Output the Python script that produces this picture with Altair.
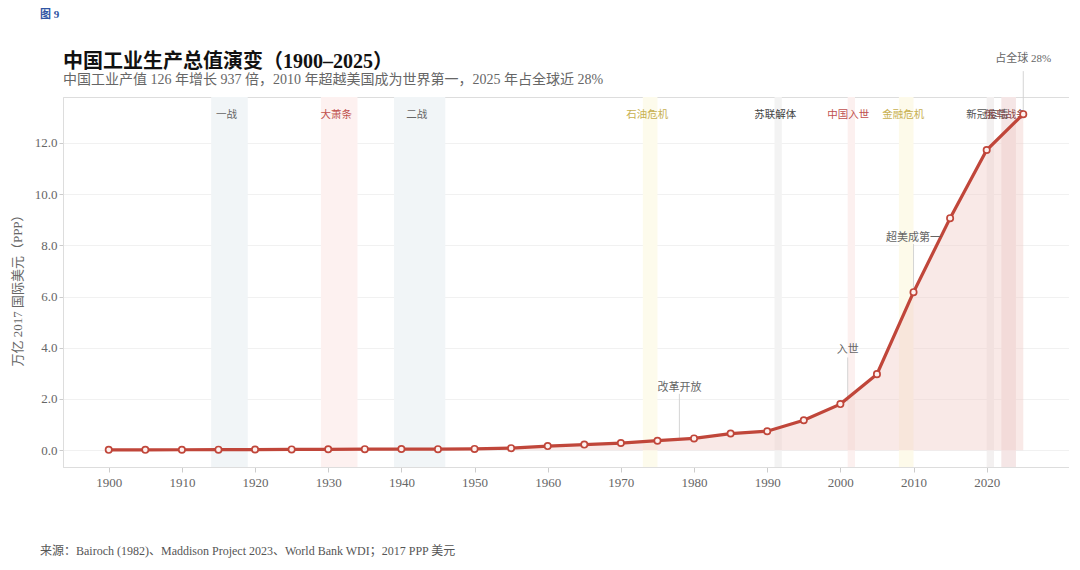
import altair as alt
import pandas as pd

# ---- data ----
years = [1900, 1905, 1910, 1915, 1920, 1925, 1930, 1935, 1940, 1945, 1950, 1955,
         1960, 1965, 1970, 1975, 1980, 1985, 1990, 1995, 2000, 2005, 2010, 2015, 2020, 2025]
values = [0.014, 0.015, 0.017, 0.02, 0.025, 0.03, 0.035, 0.04, 0.045, 0.04, 0.05, 0.08,
          0.16, 0.22, 0.28, 0.37, 0.46, 0.65, 0.74, 1.17, 1.80, 2.97, 6.17, 9.06, 11.72, 13.12]

band_names = ["一战", "大萧条", "二战", "石油危机", "苏联解体", "中国入世", "金融危机", "新冠疫情", "俄乌战争"]
band_start = [1914, 1929, 1939, 1973, 1991, 2001, 2008, 2020, 2022]
band_end = [1919, 1934, 1946, 1975, 1992, 2002, 2010, 2021, 2024]
band_fill = ["#f1f5f7", "#fdf1f0", "#f1f5f7", "#fdfbec", "#f3f3f3", "#fcf0ef", "#fdfaea", "#f3f0f0", "#f5e6e6"]
band_label_color = ["#666666", "#c0504d", "#666666", "#c8b050", "#444444", "#c0504d", "#c8b050", "#555555", "#8b4a4a"]

ann_years = [1978, 2001, 2010, 2025]
ann_labels = ["改革开放", "入世", "超美成第一", "占全球 28%"]
ann_text_y = [2.42, 3.9, 8.28, 15.27]
ann_line_top = [2.2, 3.62, 8.05, 14.8]
ann_line_bottom = [0.43, 1.9, 6.17, 13.12]

x_ticks = list(range(1900, 2021, 10))
y_ticks = [0, 2, 4, 6, 8, 10, 12]

title_text = "中国工业生产总值演变（1900–2025）"
subtitle_text = "中国工业产值 126 年增长 937 倍，2010 年超越美国成为世界第一，2025 年占全球近 28%"
fig_label = "图 9"
source_text = "来源：Bairoch (1982)、Maddison Project 2023、World Bank WDI；2017 PPP 美元"
y_title = "万亿 2017 国际美元（PPP）"

FONT = "Liberation Serif, DejaVu Serif, Noto Sans CJK SC"
W, H = 1006, 370

series = pd.DataFrame({"year": years, "value": values})
bands = pd.DataFrame({"name": band_names, "start": band_start, "end": band_end,
                      "fill": band_fill, "lc": band_label_color})
ann = pd.DataFrame({"year": ann_years, "label": ann_labels, "ty": ann_text_y,
                    "top": ann_line_top, "bottom": ann_line_bottom})

xscale = alt.Scale(domain=[1893.75, 2031.25], nice=False, zero=False)
yscale = alt.Scale(domain=[-0.656, 13.79], nice=False, zero=False)

xaxis = alt.Axis(values=x_ticks, format="d", title=None, grid=False,
                 labelColor="#666666", labelFontSize=13, labelFont=FONT,
                 tickColor="#cccccc", tickSize=5, domainColor="#dddddd", labelPadding=4)
yaxis = alt.Axis(values=y_ticks, format=".1f", title=y_title, grid=True, gridColor="#f1f1f1",
                 labelColor="#666666", labelFontSize=13, labelFont=FONT,
                 tickColor="#cccccc", tickSize=4, domainColor="#dddddd",
                 titleColor="#666666", titleFontSize=13, titleFontWeight="normal", titleFont=FONT,
                 titleX=-46, titleY=H / 2 + 5, titleAngle=-90, titleAlign="center", titleBaseline="middle")

band_rect = alt.Chart(bands).mark_rect().encode(
    x=alt.X("start:Q", scale=xscale, axis=xaxis),
    x2="end:Q",
    y=alt.value(0),
    y2=alt.value(H),
    fill=alt.Color("fill:N", scale=None),
)

band_text = alt.Chart(bands).transform_calculate(
    mid="(datum.start + datum.end) / 2"
).mark_text(fontSize=10.5, font=FONT, baseline="middle", dx=-3).encode(
    x=alt.X("mid:Q", scale=xscale, axis=xaxis),
    y=alt.value(18),
    text="name:N",
    color=alt.Color("lc:N", scale=None),
)

area = alt.Chart(series).mark_area(color="#f2cfc9", opacity=0.45).encode(
    x=alt.X("year:Q", scale=xscale, axis=xaxis),
    y=alt.Y("value:Q", scale=yscale, axis=yaxis),
    y2=alt.datum(0),
)

ann_rule = alt.Chart(ann).mark_rule(color="#cfcfcf", strokeWidth=0.9).encode(
    x=alt.X("year:Q", scale=xscale, axis=xaxis),
    y=alt.Y("top:Q", scale=yscale, axis=yaxis),
    y2="bottom:Q",
)

line = alt.Chart(series).mark_line(color="#c0463a", strokeWidth=3.2).encode(
    x=alt.X("year:Q", scale=xscale, axis=xaxis),
    y=alt.Y("value:Q", scale=yscale, axis=yaxis),
)

points = alt.Chart(series).mark_point(shape="circle", filled=True, fill="#fdf1ef",
                                      stroke="#c0463a", strokeWidth=1.7, size=40, opacity=1).encode(
    x=alt.X("year:Q", scale=xscale, axis=xaxis),
    y=alt.Y("value:Q", scale=yscale, axis=yaxis),
)

ann_text = alt.Chart(ann).mark_text(fontSize=11, font=FONT, color="#666666", baseline="middle").encode(
    x=alt.X("year:Q", scale=xscale, axis=xaxis),
    y=alt.Y("ty:Q", scale=yscale, axis=yaxis),
    text="label:N",
)

fig_txt = alt.Chart(pd.DataFrame({"t": [fig_label]})).mark_text(
    align="left", baseline="middle", fontSize=11, fontWeight="bold", color="#2f55a4", font=FONT
).encode(x=alt.value(-23), y=alt.value(-82), text="t:N")

title_txt = alt.Chart(pd.DataFrame({"t": [title_text]})).mark_text(
    align="left", baseline="middle", fontSize=20, fontWeight="bold", color="#111111", font=FONT
).encode(x=alt.value(0), y=alt.value(-35), text="t:N")

subtitle_txt = alt.Chart(pd.DataFrame({"t": [subtitle_text]})).mark_text(
    align="left", baseline="middle", fontSize=14, color="#666666", font=FONT
).encode(x=alt.value(0), y=alt.value(-17), text="t:N")

src_txt = alt.Chart(pd.DataFrame({"t": [source_text]})).mark_text(
    align="left", baseline="middle", fontSize=12, color="#555555", font=FONT
).encode(x=alt.value(-23), y=alt.value(454), text="t:N")

chart = alt.layer(band_rect, band_text, area, ann_rule, line, points, ann_text,
                  fig_txt, title_txt, subtitle_txt, src_txt).properties(
    width=W, height=H,
    autosize=alt.AutoSizeParams(type="none"),
    padding={"left": 55, "top": 89, "right": 0, "bottom": 94},
).configure_view(stroke=None).configure(background="white")

chart.save("out.html", embed_options={"renderer": "svg", "actions": False})
